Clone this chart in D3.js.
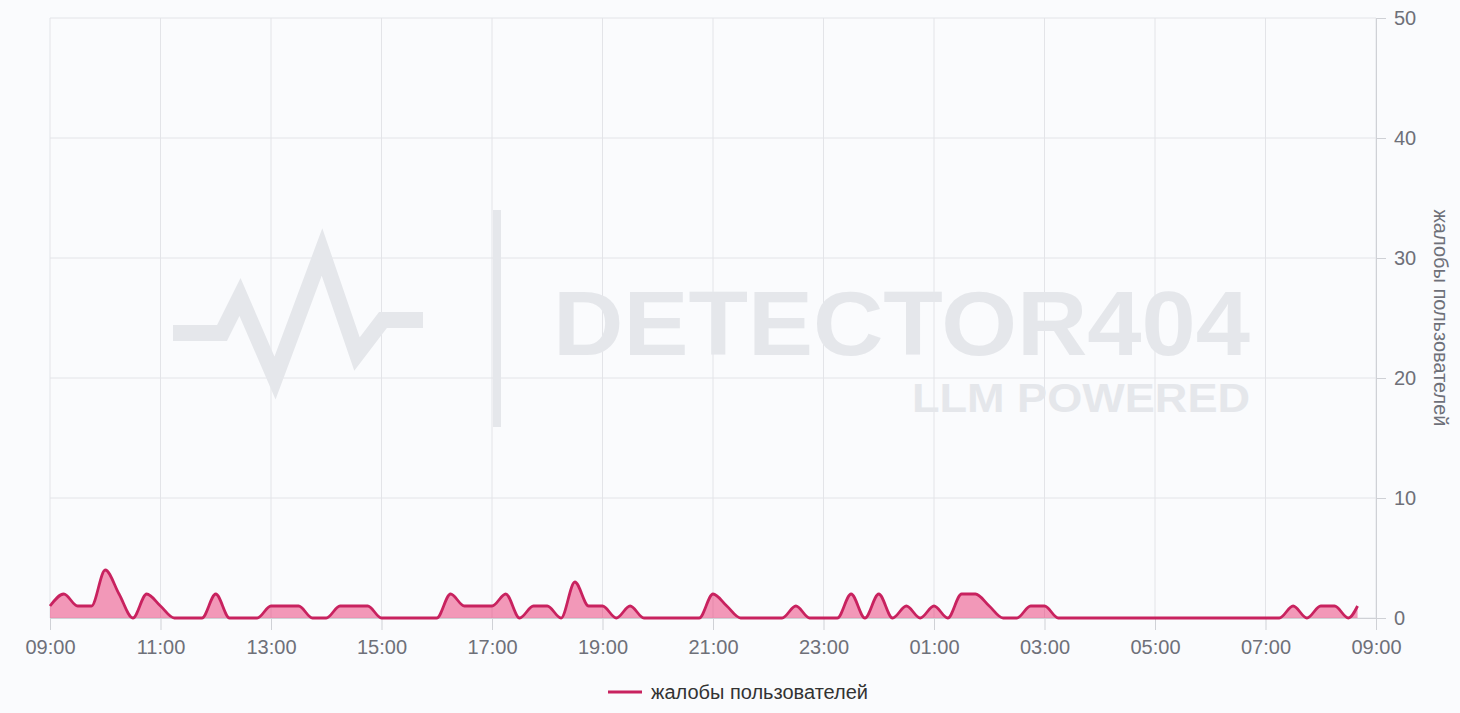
<!DOCTYPE html>
<html>
<head>
<meta charset="utf-8">
<script src="https://cdn.jsdelivr.net/npm/d3@7/dist/d3.min.js"></script>
<style>
  html, body { margin: 0; padding: 0; background: #fafbfd; }
  svg { display: block; font-family: "Liberation Sans", Arial, sans-serif; }
</style>
</head>
<body>
<svg id="chart" width="1460" height="713"></svg>
<script>
// ---- data ----
const times = [
  "09:00","09:15","09:30","09:45","10:00","10:15","10:30","10:45",
  "11:00","11:15","11:30","11:45","12:00","12:15","12:30","12:45",
  "13:00","13:15","13:30","13:45","14:00","14:15","14:30","14:45",
  "15:00","15:15","15:30","15:45","16:00","16:15","16:30","16:45",
  "17:00","17:15","17:30","17:45","18:00","18:15","18:30","18:45",
  "19:00","19:15","19:30","19:45","20:00","20:15","20:30","20:45",
  "21:00","21:15","21:30","21:45","22:00","22:15","22:30","22:45",
  "23:00","23:15","23:30","23:45","00:00","00:15","00:30","00:45",
  "01:00","01:15","01:30","01:45","02:00","02:15","02:30","02:45",
  "03:00","03:15","03:30","03:45","04:00","04:15","04:30","04:45",
  "05:00","05:15","05:30","05:45","06:00","06:15","06:30","06:45",
  "07:00","07:15","07:30","07:45","08:00","08:15","08:30","08:40"
];
const complaints = [
  1,2,1,1,4,2,0,2,
  1,0,0,0,2,0,0,0,
  1,1,1,0,0,1,1,1,
  0,0,0,0,0,2,1,1,
  1,2,0,1,1,0,3,1,
  1,0,1,0,0,0,0,0,
  2,1,0,0,0,0,1,0,
  0,0,2,0,2,0,1,0,
  1,0,2,2,1,0,0,1,
  1,0,0,0,0,0,0,0,
  0,0,0,0,0,0,0,0,
  0,0,1,0,1,1,0,1
];
const xTickLabels = ["09:00","11:00","13:00","15:00","17:00","19:00","21:00","23:00","01:00","03:00","05:00","07:00","09:00"];
const yTicks = [0,10,20,30,40,50];
const seriesName = "жалобы пользователей";
const watermarkTitle = "DETECTOR404";
const watermarkSub = "LLM POWERED";

// ---- helpers ----
function toDate(hm, startHour) {
  const [h, m] = hm.split(":").map(Number);
  const day = h < startHour ? 2 : 1;
  return new Date(2024, 0, day, h, m);
}
const data = times.map((t, i) => ({ t: toDate(t, 9), v: complaints[i] }));
const tickDates = xTickLabels.map((t, i) => i === xTickLabels.length - 1 ? new Date(2024, 0, 2, 9, 0) : toDate(t, 9));

// ---- layout ----
const svg = d3.select("#chart");
const pLeft = 50, pRight = 1376, pTop = 18, pBottom = 618;
const x = d3.scaleTime().domain([new Date(2024,0,1,9,0), new Date(2024,0,2,9,0)]).range([pLeft, pRight]);
const y = d3.scaleLinear().domain([0, 50]).range([pBottom, pTop]);

const lineColor = "#c8225f";
const gridColor = "#e3e4e8";
const axisColor = "#cfd1d6";
const labelColor = "#6e7079";

// grid
svg.append("g").selectAll("line").data(yTicks).join("line")
  .attr("x1", pLeft).attr("x2", pRight)
  .attr("y1", d => y(d)).attr("y2", d => y(d))
  .attr("stroke", gridColor).attr("stroke-width", 1);
svg.append("g").selectAll("line").data(tickDates).join("line")
  .attr("x1", d => x(d)).attr("x2", d => x(d))
  .attr("y1", pTop).attr("y2", pBottom)
  .attr("stroke", gridColor).attr("stroke-width", 1);

// watermark
const wmColor = "#e5e7eb";
const wm = svg.append("g").attr("fill", wmColor);
wm.append("path")
  .attr("d", d3.line()([[173,333],[222,333],[240,297],[275,378],[322,252],[357,354],[383,320],[423,320]]))
  .attr("fill", "none").attr("stroke", wmColor).attr("stroke-width", 16)
  .attr("stroke-linejoin", "miter").attr("stroke-miterlimit", 10);
wm.append("rect").attr("x", 493).attr("y", 210).attr("width", 8).attr("height", 217);
wm.append("text").text(watermarkTitle)
  .attr("x", 553).attr("y", 355)
  .attr("font-family", "'Liberation Sans', Arial, sans-serif").attr("font-weight", "bold")
  .attr("font-size", 90).attr("textLength", 697).attr("lengthAdjust", "spacingAndGlyphs");
wm.append("text").text(watermarkSub)
  .attr("x", 912).attr("y", 412)
  .attr("font-family", "'Liberation Sans', Arial, sans-serif").attr("font-weight", "bold")
  .attr("font-size", 41).attr("textLength", 338).attr("lengthAdjust", "spacingAndGlyphs");

// axes
const xAxis = d3.axisBottom(x).tickValues(tickDates).tickFormat((d, i) => xTickLabels[i]).tickSize(12).tickPadding(10);
const gx = svg.append("g").attr("transform", `translate(0,${pBottom})`).call(xAxis);
gx.select(".domain").attr("stroke", axisColor);
gx.selectAll(".tick line").attr("stroke", axisColor);
gx.selectAll(".tick text").attr("fill", labelColor).attr("font-size", 20)
  .attr("font-family", "'Liberation Sans', Arial, sans-serif");

const yAxis = d3.axisRight(y).tickValues(yTicks).tickSize(10).tickPadding(8);
const gy = svg.append("g").attr("transform", `translate(${pRight},0)`).call(yAxis);
gy.select(".domain").attr("stroke", axisColor);
gy.selectAll(".tick line").attr("stroke", axisColor);
gy.selectAll(".tick text").attr("fill", labelColor).attr("font-size", 20)
  .attr("font-family", "'Liberation Sans', Arial, sans-serif");

svg.append("text").text(seriesName)
  .attr("transform", `translate(1434,${(pTop + pBottom) / 2}) rotate(90)`)
  .attr("text-anchor", "middle").attr("font-size", 20).attr("fill", labelColor);

// area + line
const area = d3.area().x(d => x(d.t)).y0(y(0)).y1(d => y(d.v)).curve(d3.curveMonotoneX);
const line = d3.line().x(d => x(d.t)).y(d => y(d.v)).curve(d3.curveMonotoneX);
svg.append("path").datum(data).attr("d", area).attr("fill", "#e91e63").attr("fill-opacity", 0.45);
svg.append("path").datum(data).attr("d", line).attr("fill", "none")
  .attr("stroke", lineColor).attr("stroke-width", 2.8).attr("stroke-linejoin", "round");

// legend
const lg = svg.append("g");
lg.append("line").attr("x1", 608).attr("x2", 642).attr("y1", 692).attr("y2", 692)
  .attr("stroke", lineColor).attr("stroke-width", 3);
lg.append("text").text(seriesName).attr("x", 651).attr("y", 699)
  .attr("font-size", 20).attr("fill", "#333");
</script>
</body>
</html>
